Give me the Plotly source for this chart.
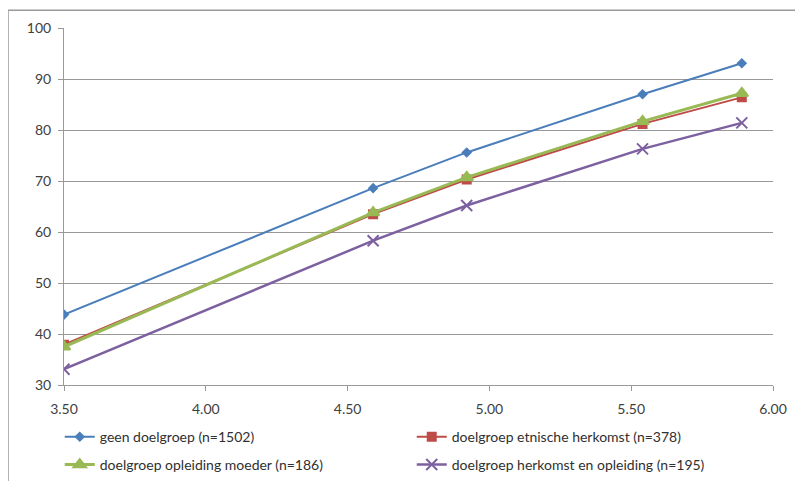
import plotly.graph_objects as go

# x positions of the measurement points
x_vals = [3.50, 4.59, 4.92, 5.54, 5.89]

geen = [43.8, 68.6, 75.6, 87.0, 93.1]
etnisch = [37.9, 63.5, 70.3, 81.2, 86.4]
opleiding = [37.5, 63.8, 70.7, 81.7, 87.2]
herkomst_opl = [33.1, 58.3, 65.2, 76.3, 81.4]

names = [
    "geen doelgroep (n=1502)",
    "doelgroep etnische herkomst (n=378)",
    "doelgroep opleiding moeder (n=186)",
    "doelgroep herkomst en opleiding (n=195)",
]
series = [geen, etnisch, opleiding, herkomst_opl]
colors = ["#4a7ebb", "#be4b48", "#98b954", "#7d60a0"]
symbols = ["diamond", "square", "triangle-up", "x-thin"]
msizes = [6, 8, 11, 11]
widths = [2, 2, 3, 2.5]
legends = ["legend", "legend", "legend2", "legend2"]

fig = go.Figure()
for name, ys, c, s, ms, w, lg in zip(names, series, colors, symbols, msizes, widths, legends):
    fig.add_trace(go.Scatter(
        x=x_vals, y=ys, name=name, mode="lines+markers",
        line=dict(color=c, width=w),
        marker=dict(symbol=s, size=ms, color=c, line=dict(color=c, width=2)),
        legend=lg,
    ))

font = dict(family="Lato, 'Open Sans', sans-serif", size=14, color="#404040")

leg = dict(
    orientation="h", x=-0.006, xanchor="left", yanchor="middle",
    entrywidth=307, entrywidthmode="pixels",
    font=dict(family="Lato, sans-serif", size=14, color="#303030"),
    bgcolor="rgba(0,0,0,0)",
)

# page has an 8px body margin, so the figure is sized a bit smaller
fig.update_layout(
    width=795, height=473,
    margin=dict(l=56, r=30, t=20, b=96, autoexpand=False),
    paper_bgcolor="white", plot_bgcolor="white",
    font=font,
    legend=dict(leg, y=-0.146),
    legend2=dict(leg, y=-0.224),
    shapes=[
        dict(type="line", xref="paper", yref="paper", x0=-0.079, x1=-0.079,
             y0=1.05, y1=-0.4, line=dict(color="#9a9a9a", width=1.5)),
        dict(type="line", xref="paper", yref="paper", x0=-0.079, x1=1.1,
             y0=1.05, y1=1.05, line=dict(color="#9a9a9a", width=1.5)),
    ],
)

fig.update_xaxes(
    range=[3.5, 6.0], tickvals=[3.5, 4.0, 4.5, 5.0, 5.5, 6.0], tickformat=".2f",
    showgrid=False, showline=True, linecolor="#999999", linewidth=1,
    ticks="outside", ticklen=5, tickcolor="#999999", zeroline=False,
    ticklabelstandoff=6,
)
fig.update_yaxes(
    range=[30, 100], dtick=10,
    showgrid=True, gridcolor="#999999", gridwidth=1,
    showline=True, linecolor="#999999", linewidth=1,
    ticks="outside", ticklen=5, tickcolor="#999999", zeroline=False,
    ticklabelstandoff=4,
)

fig.write_html("out.html")
